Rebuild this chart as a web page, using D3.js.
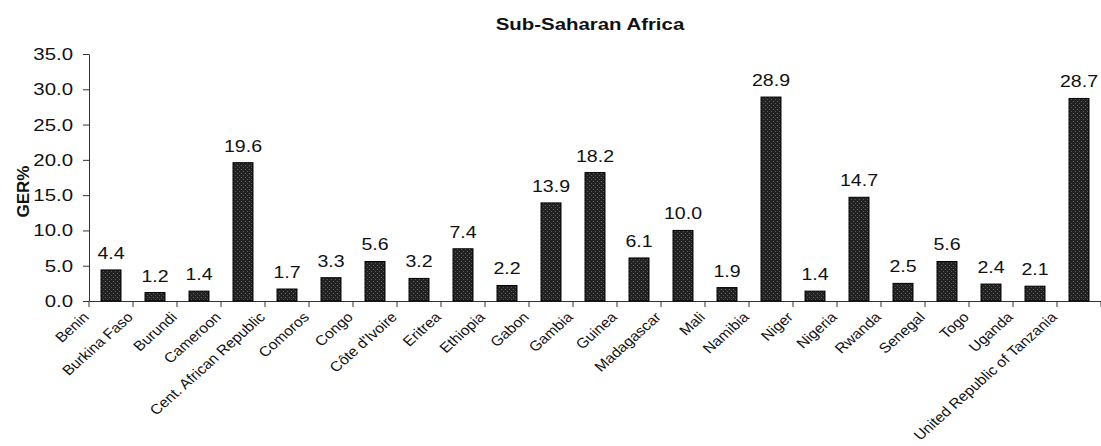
<!DOCTYPE html>
<html><head><meta charset="utf-8">
<script src="https://cdn.jsdelivr.net/npm/d3@7"></script>
<style>body{margin:0;background:#fff}svg{display:block}</style>
</head><body>
<script>
const countries = ["Benin","Burkina Faso","Burundi","Cameroon","Cent. African Republic","Comoros","Congo","Côte d'Ivoire","Eritrea","Ethiopia","Gabon","Gambia","Guinea","Madagascar","Mali","Namibia","Niger","Nigeria","Rwanda","Senegal","Togo","Uganda","United Republic of Tanzania"];
const ger = [4.4,1.2,1.4,19.6,1.7,3.3,5.6,3.2,7.4,2.2,13.9,18.2,6.1,10.0,1.9,28.9,1.4,14.7,2.5,5.6,2.4,2.1,28.7];
const yTicks = [0,5,10,15,20,25,30,35];
const title = "Sub-Saharan Africa";
const yTitle = "GER%";

const W = 1101, H = 446;
const FONT = "Liberation Sans, Arial, sans-serif";
const m = {left: 89, right: 0, top: 54, bottom: 145};
const svg = d3.select("body").append("svg").attr("width", W).attr("height", H);
const defs = svg.append("defs");
const pat = defs.append("pattern").attr("id","tex").attr("width",4).attr("height",4).attr("patternUnits","userSpaceOnUse");
pat.append("rect").attr("width",4).attr("height",4).attr("fill","#222");
pat.append("rect").attr("x",1).attr("y",1).attr("width",1).attr("height",1).attr("fill","#6a6a6a");
pat.append("rect").attr("x",3).attr("y",3).attr("width",1).attr("height",1).attr("fill","#555");

const x = d3.scaleBand().domain(countries).range([m.left, W - m.right]).paddingInner(0.546).paddingOuter(0.273);
const y = d3.scaleLinear().domain([0,35]).range([H - m.bottom, m.top]);

svg.append("text").attr("transform","translate(590,30) scale(1.2,1)").attr("text-anchor","middle")
  .attr("font-family",FONT).attr("font-weight","bold").attr("font-size",17).attr("fill","#111").text(title);

const yAxis = svg.append("g").attr("transform",`translate(${m.left},0)`)
  .call(d3.axisLeft(y).tickValues(yTicks).tickFormat(d3.format(".1f")).tickSize(6).tickSizeOuter(0));
yAxis.selectAll("text").attr("font-family",FONT).attr("font-size",17).attr("fill","#111")
  .attr("x",0).attr("transform","translate(-16,0) scale(1.2,1)");
yAxis.selectAll("line,path").attr("stroke","#333");

svg.append("text").attr("transform",`translate(28.5,191.5) rotate(-90)`).attr("text-anchor","middle")
  .attr("font-family",FONT).attr("font-weight","bold").attr("font-size",17).attr("fill","#111").text(yTitle);

const xAxis = svg.append("g").attr("transform",`translate(0,${y(0)})`)
  .call(d3.axisBottom(x).tickSize(0).tickFormat(""));
xAxis.select("path").attr("stroke","#333");
const step = x.step();
svg.append("g").selectAll("line").data(d3.range(countries.length + 1)).join("line")
  .attr("x1", i => m.left + i*step).attr("x2", i => m.left + i*step)
  .attr("y1", y(0)).attr("y2", y(0) + 6).attr("stroke","#333");

svg.append("g").selectAll("rect").data(countries).join("rect")
  .attr("x", d => x(d)).attr("width", x.bandwidth())
  .attr("y", (d,i) => y(ger[i])).attr("height", (d,i) => y(0) - y(ger[i]))
  .attr("fill","url(#tex)").attr("stroke","#000").attr("stroke-width",1);

svg.append("g").selectAll("text").data(countries).join("text")
  .attr("transform", (d,i) => `translate(${x(d) + x.bandwidth()/2},${y(ger[i]) - 11}) scale(1.15,1)`)
  .attr("text-anchor","middle").attr("font-family",FONT).attr("font-size",17).attr("fill","#111")
  .text((d,i) => d3.format(".1f")(ger[i]));

svg.append("g").selectAll("text").data(countries).join("text")
  .attr("transform", d => `translate(${x(d) + x.bandwidth()/2 - 21},${y(0) + 17}) scale(1.12,1) rotate(-45)`)
  .attr("text-anchor","end").attr("font-family",FONT).attr("font-size",14).attr("fill","#111")
  .text(d => d);
</script>
</body></html>
